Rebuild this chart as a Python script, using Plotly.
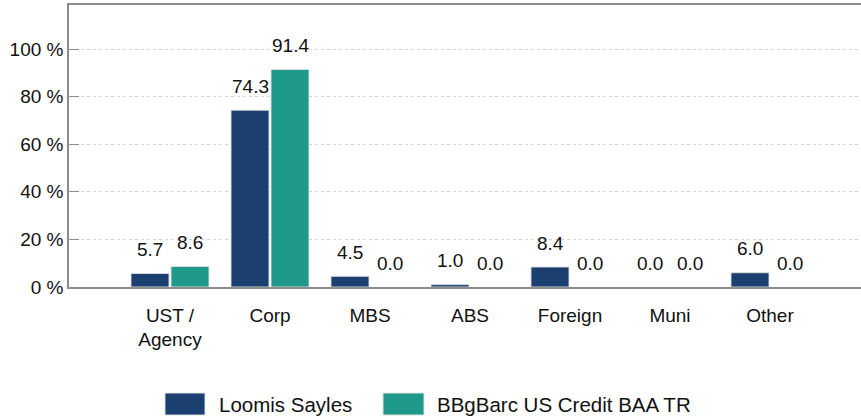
import plotly.graph_objects as go

# Sector allocation, % of portfolio
categories = ["UST /<br>Agency", "Corp", "MBS", "ABS", "Foreign", "Muni", "Other"]
loomis_sayles = [5.7, 74.3, 4.5, 1.0, 8.4, 0.0, 6.0]
bbgbarc_baa = [8.6, 91.4, 0.0, 0.0, 0.0, 0.0, 0.0]
series_names = ["Loomis Sayles", "BBgBarc US Credit BAA TR"]
y_ticks = [0, 20, 40, 60, 80, 100]

NAVY = "#1b3f6f"
TEAL = "#1f9a8a"
FONT = "Liberation Sans Narrow, Arial Narrow, Liberation Sans, Arial, sans-serif"
TXT = "#111111"
EDGE = "rgba(225,225,225,0.9)"

fig = go.Figure()
for name, vals, color in [(series_names[0], loomis_sayles, NAVY),
                          (series_names[1], bbgbarc_baa, TEAL)]:
    fig.add_trace(go.Bar(
        x=categories, y=vals, name=name,
        marker=dict(color=color,
                    line=dict(color=EDGE, width=[1 if v > 0 else 0 for v in vals])),
        showlegend=False,
    ))

# value labels above each bar
annotations = []
for vals, shift in [(loomis_sayles, -20), (bbgbarc_baa, 20)]:
    for cat, v in zip(categories, vals):
        annotations.append(dict(
            x=cat, y=v, text=f"{v:.1f}", showarrow=False,
            xshift=shift, yshift=24, yanchor="middle", xanchor="center",
            font=dict(family=FONT, size=19, color=TXT),
        ))

# legend drawn below the axis
shapes = []
legend_items = [(series_names[0], NAVY, 0.1212, 0.1717, 0.1869),
                (series_names[1], TEAL, 0.3965, 0.4482, 0.4621)]
for name, color, x0, x1, xt in legend_items:
    shapes.append(dict(type="rect", xref="paper", yref="paper",
                       x0=x0, x1=x1, y0=-0.454, y1=-0.376,
                       fillcolor=color, line=dict(color=EDGE, width=1)))
    annotations.append(dict(xref="paper", yref="paper", x=xt, y=-0.415,
                            text=name, showarrow=False, xanchor="left", yanchor="middle",
                            font=dict(family=FONT, size=20.5, color=TXT)))

fig.update_layout(
    width=861, height=417,
    margin=dict(l=69, r=0, t=5, b=130),
    paper_bgcolor="white", plot_bgcolor="white",
    barmode="group", bargap=0.2, bargroupgap=0.05,
    font=dict(family=FONT, size=19, color=TXT),
    annotations=annotations, shapes=shapes,
    xaxis=dict(
        type="category", range=[-1.01, 6.91],
        showline=True, linecolor="#8c8c8c", linewidth=1.5, mirror=True,
        ticks="", showgrid=False, tickfont=dict(size=19),
        ticklabelstandoff=10,
    ),
    yaxis=dict(
        range=[0, 118.5], tickmode="array", tickvals=y_ticks,
        ticktext=[f"{v} %" for v in y_ticks],
        showline=True, linecolor="#8c8c8c", linewidth=1.5,
        ticks="inside", ticklen=10, tickcolor="#8c8c8c", tickwidth=1,
        showgrid=True, gridcolor="#d4d4d4", griddash="dot", gridwidth=1,
        zeroline=False, tickfont=dict(size=19),
    ),
)

fig.write_html("out.html")
